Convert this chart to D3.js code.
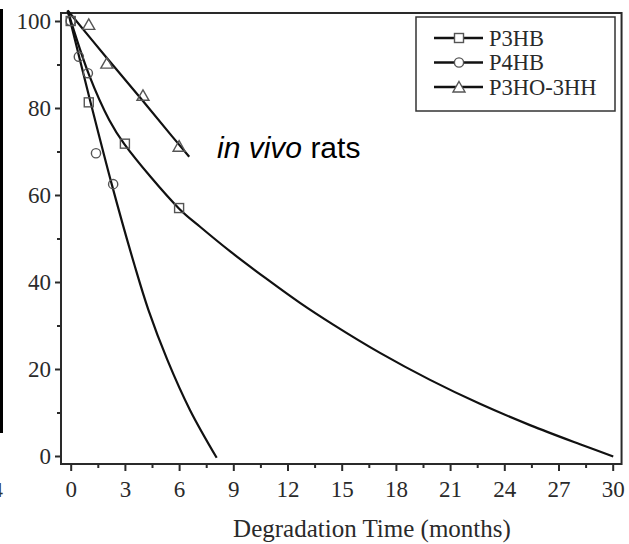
<!DOCTYPE html>
<html><head><meta charset="utf-8">
<script src="https://cdn.jsdelivr.net/npm/d3@7"></script>
<style>body{margin:0;background:#fff}svg{display:block}</style>
</head><body>
<svg id="c" width="629" height="544"></svg>
<script>
// ---- data ----
const xTicks = [0,3,6,9,12,15,18,21,24,27,30];
const yTicks = [0,20,40,60,80,100];
const seriesNames = ["P3HB","P4HB","P3HO-3HH"];
// measured points
const p3hbT = [0, 1, 3, 6];
const p3hbV = [100, 81.3, 71.8, 57];
const p4hbT = [0, 0.45, 0.95, 1.4, 2.35];
const p4hbV = [100, 91.8, 88, 69.6, 62.5];
const p3hoT = [1, 2, 4, 6];
const p3hoV = [99.1, 90.2, 82.8, 71.1];
// fitted curves
const fitSteepT = [-0.166, 1.07, 2.27, 3.53, 4.30, 5.35, 6.60, 8.08];
const fitSteepV = [102.4, 81.8, 62.5, 43.9, 33.6, 22.1, 10.6, -0.4];
const fitMidT = [-0.166, 1.0, 2.14, 2.97, 5.99, 7.16, 8.9, 10.85, 12.69, 14.53, 17.12, 19.89, 22.65, 25.42, 28.19, 30.03];
const fitMidV = [102.4, 87.8, 77.2, 71.7, 56.9, 52.7, 46.8, 40.7, 35.2, 30.2, 23.7, 17.5, 12.0, 7.1, 2.7, -0.1];
const fitTopT = [-0.166, 2, 4, 5.59, 6.56];
const fitTopV = [102.4, 91.5, 81.6, 73.6, 68.8];

const svg = d3.select("#c");
const x = d3.scaleLinear().domain([0,30]).range([70.7,612.7]);
const y = d3.scaleLinear().domain([0,100]).range([456,21]);
const X0 = x(-0.537), X1 = x(30.49), Y0 = y(-1.84), Y1 = y(101.84);
const serif = "'Liberation Serif','Times New Roman',serif";

// scan artefact on left edge
svg.append("rect").attr("x",0).attr("y",9).attr("width",3).attr("height",424).attr("fill","#000");
svg.append("text").attr("x",-8).attr("y",497).attr("font-family",serif).attr("font-size",22).attr("fill","#333").text("4");

// frame
svg.append("rect").attr("x",X0).attr("y",Y1).attr("width",X1-X0).attr("height",Y0-Y1)
  .attr("fill","none").attr("stroke","#2a2a2a").attr("stroke-width",2);

// axes
const gy = svg.append("g").attr("transform",`translate(${X0},0)`)
  .call(d3.axisLeft(y).tickValues(yTicks).tickSize(6).tickPadding(4).tickFormat(d3.format("d")));
const gyMinor = svg.append("g").attr("transform",`translate(${X0},0)`)
  .call(d3.axisLeft(y).tickValues(d3.range(10,100,20)).tickSize(4).tickFormat(""));
const gx = svg.append("g").attr("transform",`translate(0,${Y0})`)
  .call(d3.axisBottom(x).tickValues(xTicks).tickSize(7).tickPadding(10).tickFormat(d3.format("d")));
const gxMinor = svg.append("g").attr("transform",`translate(0,${Y0})`)
  .call(d3.axisBottom(x).tickValues(d3.range(1.5,30,3)).tickSize(4).tickFormat(""));
[gy,gyMinor,gx,gxMinor].forEach(g=>{
  g.select(".domain").remove();
  g.selectAll("line").attr("stroke","#2a2a2a").attr("stroke-width",2);
  g.selectAll("text").attr("font-family",serif).attr("font-size",23).attr("fill","#2a2a2a");
});

// axis title
svg.append("text").attr("x",372).attr("y",537).attr("text-anchor","middle")
  .attr("font-family",serif).attr("font-size",25).attr("fill","#2a2a2a").text("Degradation Time (months)");

// fit curves
const line = d3.line().x(d=>x(d[0])).y(d=>y(d[1])).curve(d3.curveCatmullRom.alpha(0.5));
[[fitSteepT,fitSteepV],[fitMidT,fitMidV],[fitTopT,fitTopV]].forEach(([T,V])=>{
  svg.append("path").attr("d",line(T.map((t,i)=>[t,V[i]])))
    .attr("fill","none").attr("stroke","#111").attr("stroke-width",2.2);
});

// markers
const mStroke = "#555";
function drawSym(g, type, cx, cy, fill){
  if(type==="square") g.append("rect").attr("x",cx-4.5).attr("y",cy-4.5).attr("width",9).attr("height",9)
      .attr("fill",fill).attr("stroke",mStroke).attr("stroke-width",1.4);
  else if(type==="circle") g.append("circle").attr("cx",cx).attr("cy",cy).attr("r",4.6)
      .attr("fill",fill).attr("stroke",mStroke).attr("stroke-width",1.4);
  else g.append("path").attr("d",`M${cx},${cy-6}L${cx+6},${cy+4.5}L${cx-6},${cy+4.5}Z`)
      .attr("fill",fill).attr("stroke",mStroke).attr("stroke-width",1.4);
}
const gm = svg.append("g");
p3hbT.forEach((t,i)=>drawSym(gm,"square",x(t),y(p3hbV[i]),"none"));
p4hbT.forEach((t,i)=>drawSym(gm,"circle",x(t),y(p4hbV[i]),"none"));
p3hoT.forEach((t,i)=>drawSym(gm,"triangle",x(t),y(p3hoV[i]),"none"));

// in vivo rats label
const lab = svg.append("text").attr("x",217).attr("y",158).attr("font-family","'Liberation Sans',Arial,sans-serif")
  .attr("font-size",30).attr("fill","#000");
lab.append("tspan").attr("font-style","italic").text("in vivo");
lab.append("tspan").text(" rats");

// legend
svg.append("rect").attr("x",416).attr("y",17).attr("width",199).attr("height",94)
  .attr("fill","#fff").attr("stroke","#333").attr("stroke-width",1.5);
const types = ["square","circle","triangle"];
seriesNames.forEach((n,i)=>{
  const ly = 38 + i*24.5;
  svg.append("line").attr("x1",434).attr("x2",483).attr("y1",ly).attr("y2",ly).attr("stroke","#111").attr("stroke-width",2.5);
  drawSym(svg, types[i], 459, ly+ (types[i]==="triangle"?0.5:0), "#fff");
  svg.append("text").attr("x",489).attr("y",ly+7.5).attr("font-family",serif).attr("font-size",22.5).attr("fill","#2a2a2a").text(n);
});
</script>
</body></html>
